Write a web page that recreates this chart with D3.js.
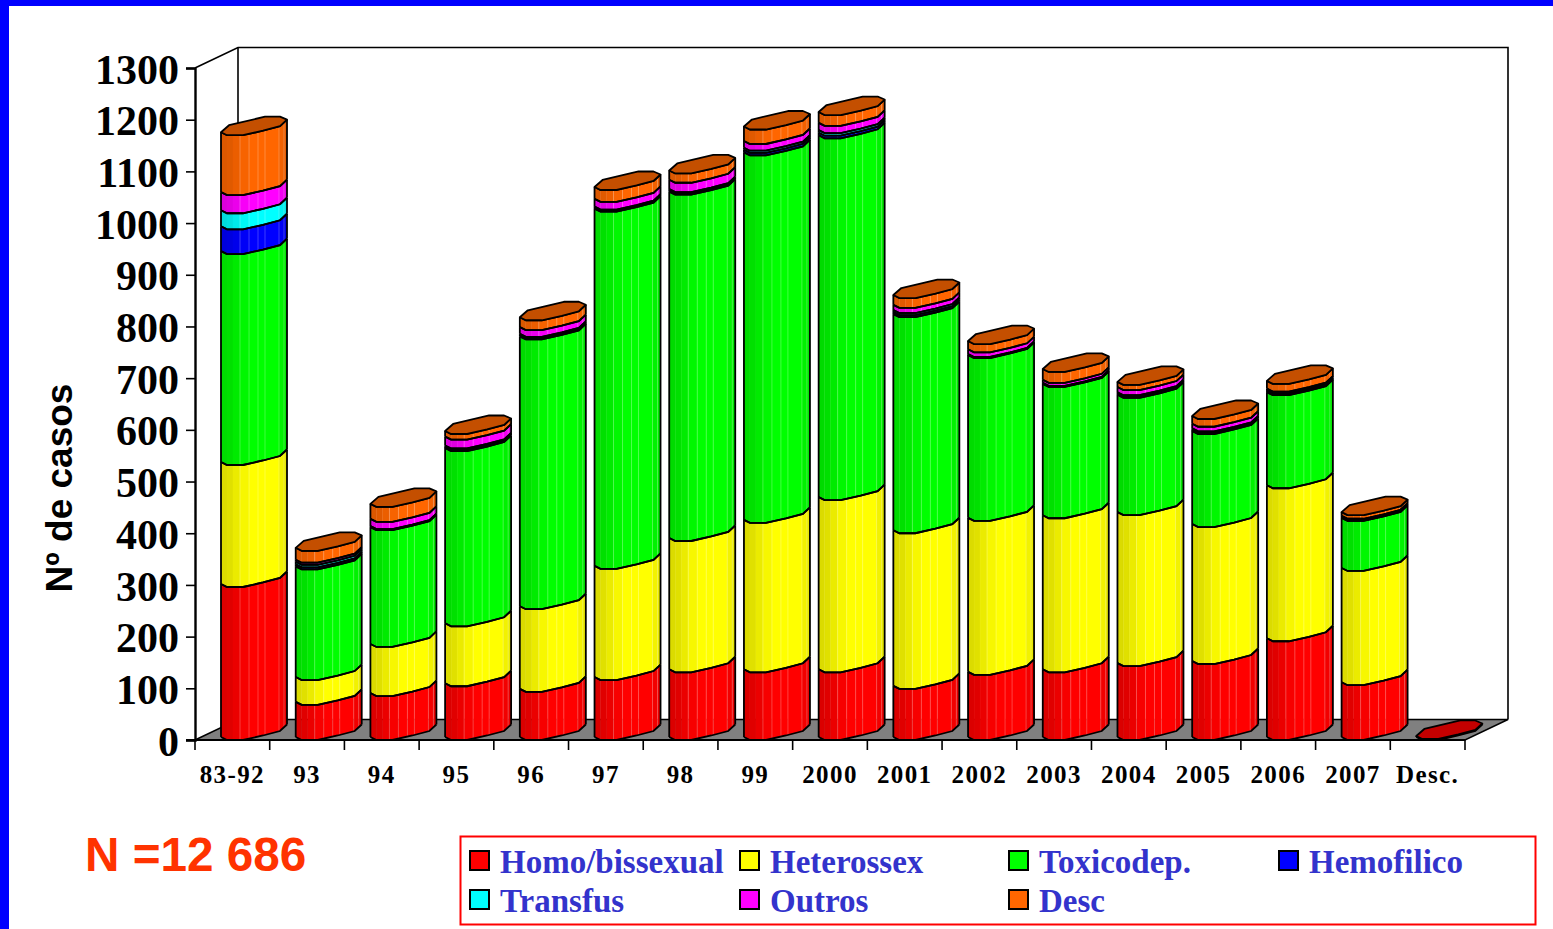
<!DOCTYPE html>
<html><head><meta charset="utf-8">
<script src="https://cdn.jsdelivr.net/npm/d3@7/dist/d3.min.js"></script>
<style>html,body{margin:0;padding:0;background:#fff;overflow:hidden}svg{display:block}</style>
</head><body><svg id="c" width="1553" height="929"></svg>
<script>
const categories=["83-92","93","94","95","96","97","98","99","2000","2001","2002","2003","2004","2005","2006","2007","Desc."];
const homo  =[296,68,85,104,93,116,131,131,131,99,126,131,143,147,191,106,2];
const hetero=[236,48,95,116,160,215,254,289,333,301,298,298,292,265,296,221,0];
const toxico=[408,214,226,339,522,691,670,711,700,418,315,254,227,180,180,97,0];
const hemo  =[48,4,1,3,3,2,3,5,5,4,1,1,3,3,2,1,0];
const transf=[31,5,1,2,2,2,2,4,5,4,1,1,2,2,2,2,0];
const outros=[35,4,14,17,13,15,18,13,14,10,9,6,10,9,3,1,0];
const desc  =[116,23,29,11,19,23,18,28,21,19,16,21,10,15,15,7,0];
const seriesNames=["Homo/bissexual","Heterossex","Toxicodep.","Hemofilico","Transfus","Outros","Desc"];
const seriesColors=["#ff0000","#ffff00","#00ff00","#0000ff","#00ffff","#ff00ff","#ff6600"];
const yTicks=d3.range(0,1301,100);

const svg=d3.select("#c");
svg.append("rect").attr("x",0).attr("y",0).attr("width",1553).attr("height",6).attr("fill","#0000ff");
svg.append("rect").attr("x",0).attr("y",0).attr("width",9).attr("height",929).attr("fill","#0000ff");

const y=d3.scaleLinear().domain([0,1300]).range([740,68]);
const x=d3.scaleBand().domain(categories).range([195,1465]);
const depthX=43, depthY=20.5, barOff=26;

// walls and floor
const wall=d3.line();
svg.append("path").attr("d",wall([[195,y(1300)],[195+depthX,y(1300)-depthY],[1508,y(1300)-depthY],[1508,y(0)-depthY]]))
  .attr("fill","none").attr("stroke","#000").attr("stroke-width",1.6);
svg.append("path").attr("d",wall([[195+depthX,y(1300)-depthY],[195+depthX,y(0)-depthY]]))
  .attr("stroke","#000").attr("stroke-width",1.6);
svg.append("path").attr("d",wall([[195,y(0)],[195+depthX,y(0)-depthY],[1508,y(0)-depthY],[1465,y(0)]])+"Z")
  .attr("fill","#808080").attr("stroke","#000").attr("stroke-width",1.4);

// axes
const ax=svg.append("g").attr("transform","translate(195,0)").call(d3.axisLeft(y).tickValues(yTicks).tickSize(9).tickPadding(7).tickFormat(d3.format("d")));
ax.selectAll("text").attr("font-family","'Liberation Serif'").attr("font-weight","bold").attr("font-size",42).attr("fill","#000").attr("dy","0.36em");
ax.selectAll("line").attr("stroke","#000").attr("stroke-width",1.6);
ax.select(".domain").attr("stroke","#000").attr("stroke-width",2.4);
const bx=svg.append("g").attr("transform","translate(0,740)").call(d3.axisBottom(x).tickSize(0).tickPadding(25.5));
bx.selectAll("text").attr("font-family","'Liberation Serif'").attr("font-weight","bold").attr("font-size",25).attr("fill","#000").attr("letter-spacing",1.4);
bx.selectAll("line").remove();
bx.select(".domain").remove();
svg.append("line").attr("x1",186).attr("x2",1465).attr("y1",740).attr("y2",740).attr("stroke","#000").attr("stroke-width",1.8);
svg.append("g").selectAll("line").data(categories.map(c=>x(c)).concat([x.range()[1]])).join("line")
  .attr("x1",d=>d).attr("x2",d=>d).attr("y1",740).attr("y2",750).attr("stroke","#000").attr("stroke-width",1.6);

// stacked cylinders
const rows=categories.map((c,i)=>({c,s0:homo[i],s1:hetero[i],s2:toxico[i],s3:hemo[i],s4:transf[i],s5:outros[i],s6:desc[i]}));
const keys=["s0","s1","s2","s3","s4","s5","s6"];
const stacked=d3.stack().keys(keys)(rows);
const frontProfile=d3.scaleLinear().domain([0,6,22,42,59,66]).range([-3,0,0,-4.5,-9,-15.5]);
const backProfile=[[66,-15.5],[59,-18.5],[44,-18.5],[8,-10],[0,-3]];
const breaks=[0,6,12,19,28,37,44,58,63,66];
const shades=[0.86,0.88,0.92,0.97,1,1,1,0.95,0.91];
const seams=[19,28,37,44,58,63];
const shade=(col,k)=>{const c=d3.rgb(col);return d3.rgb(c.r*k,c.g*k,c.b*k).formatHex();};
const lineGen=d3.line();
const frontPts=(x0,yy)=>frontProfile.domain().map(d=>[x0+d,yy+frontProfile(d)]);

const layer=svg.append("g");
categories.forEach((c,i)=>{
  const x0=x(c)+barOff;
  const g=layer.append("g");
  let topKey=-1;
  stacked.forEach((s,k)=>{ if(s[i][1]>s[i][0]) topKey=k; });
  stacked.forEach((s,k)=>{
    const v0=s[i][0],v1=s[i][1];
    if(v1<=v0) return;
    const yb=y(v0),yt=y(v1);
    const col=seriesColors[k];
    d3.range(shades.length).forEach(j=>{
      const a=breaks[j],b=breaks[j+1];
      const ds=frontProfile.domain().filter(d=>d>a&&d<b);
      const xs=[a,...ds,b];
      const poly=xs.map(d=>[x0+d,yt+frontProfile(d)]).concat(xs.slice().reverse().map(d=>[x0+d,yb+frontProfile(d)]));
      g.append("path").attr("d",lineGen(poly)+"Z").attr("fill",shade(col,shades[j])).attr("stroke",shade(col,shades[j])).attr("stroke-width",0.4);
    });
    seams.forEach(d=>{
      g.append("line").attr("x1",x0+d).attr("x2",x0+d).attr("y1",yb+frontProfile(d)).attr("y2",yt+frontProfile(d))
       .attr("stroke","#fff").attr("stroke-opacity",0.3).attr("stroke-width",0.8);
    });
  });
  stacked.forEach((s,k)=>{
    const v0=s[i][0],v1=s[i][1];
    if(v1<=v0) return;
    const yb=y(v0),yt=y(v1);
    const w=1.8;
    g.append("path").attr("d",lineGen(frontPts(x0,yb))).attr("fill","none").attr("stroke","#000").attr("stroke-width",w);
    g.append("path").attr("d",lineGen(frontPts(x0,yt))).attr("fill","none").attr("stroke","#000").attr("stroke-width",w);
    g.append("line").attr("x1",x0).attr("x2",x0).attr("y1",yb+frontProfile(0)).attr("y2",yt+frontProfile(0)).attr("stroke","#000").attr("stroke-width",w);
    g.append("line").attr("x1",x0+66).attr("x2",x0+66).attr("y1",yb+frontProfile(66)).attr("y2",yt+frontProfile(66)).attr("stroke","#000").attr("stroke-width",w);
  });
  if(topKey>=0){
    const yt=y(stacked[topKey][i][1]);
    const poly=frontPts(x0,yt).concat(backProfile.map(p=>[x0+p[0],yt+p[1]]));
    g.append("path").attr("d",lineGen(poly)+"Z").attr("fill",shade(seriesColors[topKey],0.77)).attr("stroke","#000").attr("stroke-width",1.8).attr("stroke-linejoin","round");
  }
});

// y title
svg.append("text").attr("transform","translate(72,488) rotate(-90)").attr("text-anchor","middle")
  .attr("font-family","'Liberation Sans'").attr("font-weight","bold").attr("font-size",37).attr("fill","#000").text("Nº de casos");
// N label
svg.append("text").attr("x",85).attr("y",871).attr("font-family","'Liberation Sans'").attr("font-weight","bold").attr("font-size",47.7).attr("fill","#ff3300").text("N =12 686");

// legend
svg.append("rect").attr("x",460.5).attr("y",836.5).attr("width",1075).attr("height",88).attr("fill","none").attr("stroke","#ff0000").attr("stroke-width",2);
const legendCols=[469,739,1008,1278],legendRows=[851,890];
const lg=svg.append("g").selectAll("g").data(seriesNames).join("g")
  .attr("transform",(d,i)=>`translate(${legendCols[i%4]},${legendRows[Math.floor(i/4)]})`);
lg.append("rect").attr("x",1).attr("y",0).attr("width",19).attr("height",19).attr("fill",(d,i)=>seriesColors[i]).attr("stroke","#000").attr("stroke-width",2);
lg.append("text").attr("x",31).attr("y",22).attr("font-family","'Liberation Serif'").attr("font-weight","bold").attr("font-size",33).attr("fill","#3333cc").text(d=>d);
</script></body></html>
